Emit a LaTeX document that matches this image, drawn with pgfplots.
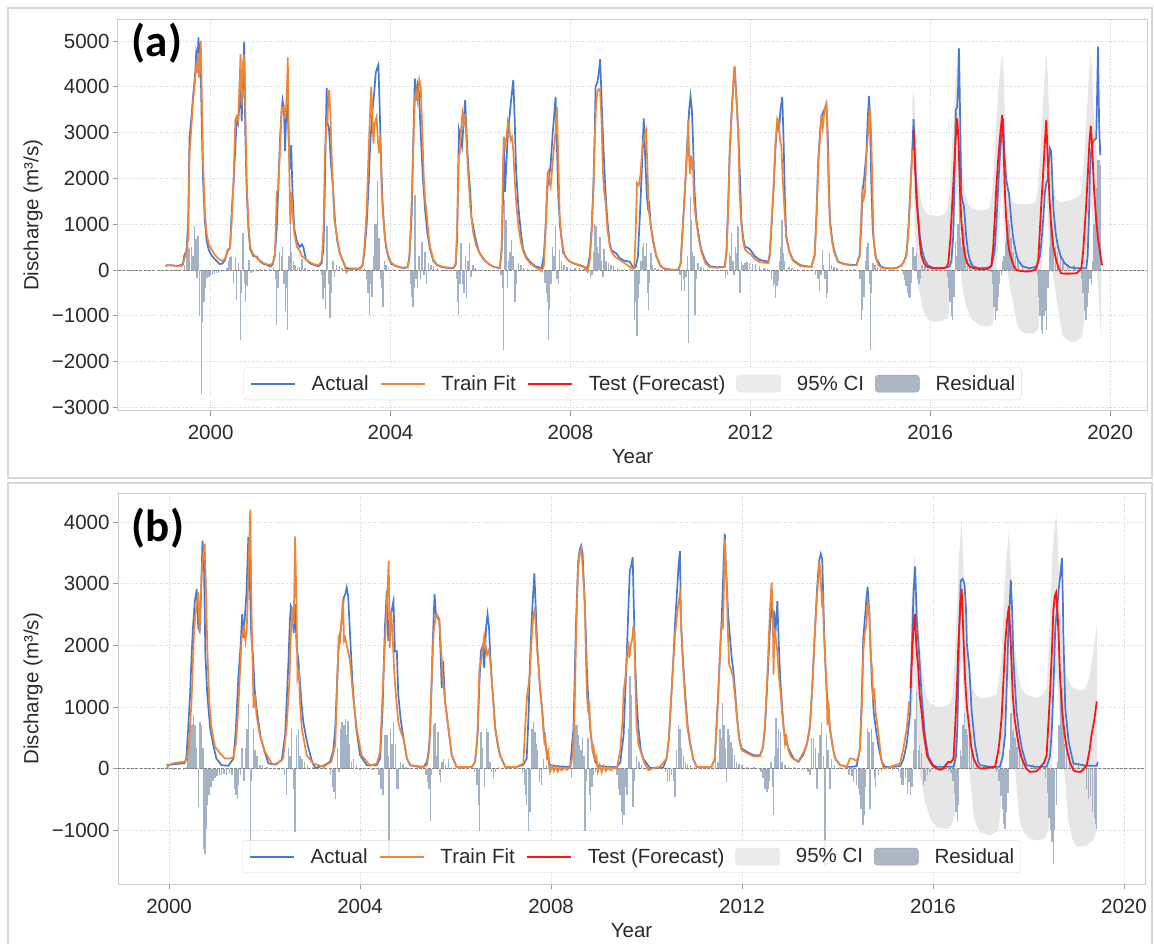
\documentclass[border=0pt]{standalone}
\usepackage{fontspec}
\setmainfont{Liberation Sans}
\newfontfamily\labfont{Carlito}
\usepackage{pgfplots}
\pgfplotsset{compat=1.18}

\definecolor{cA}{HTML}{4878CF}
\definecolor{cF}{HTML}{EF8538}
\definecolor{cT}{HTML}{FF1414}
\definecolor{ci}{HTML}{E6E6E6}
\definecolor{resid}{HTML}{A4B2C6}
\definecolor{gridc}{HTML}{D2D2D2}
\definecolor{framec}{HTML}{CCCCCC}
\definecolor{tickc}{HTML}{2B2B2B}
\definecolor{panelc}{HTML}{D8D8D8}

\newcommand{\tf}{\fontsize{20.5}{24}\selectfont}

\pgfplotsset{
  legA/.style={legend image code/.code={\draw[cA, line width=1.9pt] (0pt,0pt) -- (44pt,0pt);}},
  legF/.style={legend image code/.code={\draw[cF, line width=1.9pt] (0pt,0pt) -- (44pt,0pt);}},
  legT/.style={legend image code/.code={\draw[cT, line width=1.9pt] (0pt,0pt) -- (44pt,0pt);}},
  legC/.style={legend image code/.code={\fill[ci] (0pt,-8.5pt) rectangle (44pt,8.5pt);}},
  legR/.style={legend image code/.code={\fill[resid!90!black!95] (0pt,-8.5pt) rectangle (44pt,8.5pt);}},
  myax/.style={
    scale only axis,
    axis line style={framec, line width=1pt},
    grid=major,
    major grid style={gridc, line width=0.8pt, dash pattern=on 1pt off 1.6pt},
    tick align=outside,
    major tick length=5pt,
    tick style={black!40, line width=0.9pt},
    xtick pos=left, ytick pos=left,
    xtick={2000,2004,2008,2012,2016,2020},
    xticklabels={2000,2004,2008,2012,2016,2020},
    tick label style={font=\tf, text=tickc},
    xticklabel style={yshift=-6pt},
    label style={font=\tf, text=tickc},
    xlabel={Year},
    ylabel={Discharge (m³/s)},
    legend columns=5,
    legend cell align=left,
    legend style={anchor=south, draw=black!14, rounded corners=3pt,
      fill=white, fill opacity=0.8, text opacity=1, font=\tf, text=tickc,
      inner xsep=6pt, inner ysep=6pt, column sep=16pt,
      /tikz/every even column/.append style={column sep=11pt},
      nodes={inner xsep=0pt, inner ysep=2pt}},
  },
}

\begin{document}
\begin{tikzpicture}[x=1pt,y=1pt]
\fill[white] (0,0) rectangle (1154,944);
\path[use as bounding box] (0,0) rectangle (1154,944);
\draw[panelc, line width=1.2pt] (8,466) rectangle (1152,936);
\draw[panelc, line width=1.2pt] (8,-10) rectangle (1152,461);

% ---------------- panel (a) ----------------
\begin{axis}[myax,
  at={(118pt,533pt)}, anchor=south west,
  width=1029pt, height=391.5pt,
  xmin=1997.94, xmax=2020.82, ymin=-3079, ymax=5469,
  ytick={-3000,-2000,-1000,0,1000,2000,3000,4000,5000},
  yticklabels={−3000,−2000,−1000,0,1000,2000,3000,4000,5000},
  xlabel style={at={(axis description cs:0.5,-0.1175)}, anchor=center},
  ylabel style={at={(axis description cs:-0.0826,0.5)}, anchor=center, rotate=0},
  legend style={at={(0.5,0.028)}},
]
% 95% CI
\addplot[fill=ci, draw=none, forget plot] coordinates {
(2015.60,3700) (2015.63,3893) (2015.66,3400) (2015.70,2600) (2015.74,2000) (2015.78,1600) (2015.84,1350) (2015.92,1240) (2016.00,1200) (2016.15,1180) (2016.30,1200) (2016.38,1300) (2016.43,1700) (2016.48,2600) (2016.53,3500) (2016.58,4400) (2016.61,4800) (2016.64,4300) (2016.68,3000) (2016.72,2200) (2016.77,1700) (2016.84,1450) (2016.92,1350) (2017.05,1310) (2017.20,1300) (2017.32,1350) (2017.38,1700) (2017.43,2500) (2017.48,3400) (2017.54,4200) (2017.60,4750) (2017.63,4300) (2017.67,3000) (2017.71,2200) (2017.76,1700) (2017.82,1500) (2017.90,1450) (2018.05,1440) (2018.20,1440) (2018.34,1480) (2018.40,1800) (2018.45,2600) (2018.50,3500) (2018.55,4300) (2018.58,4730) (2018.61,4300) (2018.65,3100) (2018.69,2300) (2018.74,1800) (2018.80,1550) (2018.88,1480) (2019.00,1500) (2019.15,1530) (2019.30,1600) (2019.36,1700) (2019.42,2400) (2019.47,3200) (2019.52,4100) (2019.57,4766) (2019.60,4300) (2019.64,3300) (2019.69,2600) (2019.74,2100) (2019.80,1700)
(2019.80,-1550) (2019.77,-1000) (2019.74,-500) (2019.71,-100) (2019.67,300) (2019.62,900) (2019.57,1500) (2019.53,800) (2019.49,100) (2019.45,-500) (2019.42,-1100) (2019.38,-1450) (2019.25,-1560) (2019.10,-1565) (2018.95,-1450) (2018.88,-1092) (2018.82,-700) (2018.77,-360) (2018.73,-100) (2018.69,200) (2018.64,600) (2018.61,1200) (2018.58,1800) (2018.54,1000) (2018.50,300) (2018.46,-300) (2018.43,-800) (2018.40,-1300) (2018.30,-1390) (2018.10,-1383) (2017.98,-1300) (2017.91,-1092) (2017.84,-700) (2017.77,-360) (2017.73,-100) (2017.69,200) (2017.65,700) (2017.62,1300) (2017.60,1900) (2017.56,1400) (2017.52,700) (2017.48,100) (2017.45,-400) (2017.42,-900) (2017.39,-1200) (2017.25,-1240) (2017.10,-1200) (2016.95,-1092) (2016.88,-1000) (2016.80,-800) (2016.74,-500) (2016.70,-218) (2016.67,200) (2016.64,900) (2016.60,1800) (2016.56,1300) (2016.52,500) (2016.48,-100) (2016.44,-300) (2016.42,-900) (2016.39,-1050) (2016.25,-1110) (2016.10,-1128) (2015.95,-1092) (2015.84,-873) (2015.78,-550) (2015.73,-364) (2015.69,100) (2015.65,1200) (2015.62,2300) (2015.60,2500)
};
% residuals
\addplot[ycomb, resid, line width=1.4pt, forget plot] coordinates {
(1999.05,5) (1999.15,5) (1999.25,-10) (1999.35,30) (1999.42,100) (1999.46,360) (1999.50,500) (1999.53,450) (1999.57,500) (1999.61,300) (1999.64,970) (1999.67,680) (1999.70,-180) (1999.72,750) (1999.75,-1000) (1999.79,-2700) (1999.82,-1130) (1999.85,-690) (1999.87,-400) (1999.89,-330) (1999.92,-180) (1999.96,-150)
(2000.00,-120) (2000.04,-100) (2000.08,-80) (2000.13,-70) (2000.18,-60) (2000.24,-50) (2000.30,-30) (2000.36,50) (2000.40,200) (2000.43,290) (2000.47,300) (2000.51,-290) (2000.55,290) (2000.58,-650) (2000.62,150) (2000.66,-1530) (2000.69,-500) (2000.72,800) (2000.75,-300) (2000.78,-700) (2000.81,-360) (2000.85,220) (2000.90,-60) (2000.95,-40)
(2001.02,30) (2001.10,20) (2001.20,20) (2001.30,30) (2001.40,60) (2001.44,-200) (2001.47,-1200) (2001.50,-400) (2001.53,400) (2001.57,300) (2001.60,500) (2001.63,-300) (2001.66,-900) (2001.69,-400) (2001.71,-1300) (2001.74,300) (2001.77,1000) (2001.80,400) (2001.84,200) (2001.88,100) (2001.93,50) (2001.98,60) (2002.03,250)
(2002.10,50) (2002.20,-20) (2002.30,-30) (2002.40,-30) (2002.46,-100) (2002.50,-630) (2002.53,-400) (2002.56,-850) (2002.59,960) (2002.62,-300) (2002.65,-1050) (2002.68,-500) (2002.72,200) (2002.76,-150) (2002.80,100) (2002.86,80) (2002.92,50) (2003.00,-30) (2003.10,-20) (2003.25,-10)
(2003.38,20) (2003.42,50) (2003.46,-200) (2003.50,-500) (2003.53,-980) (2003.56,-300) (2003.59,-600) (2003.62,300) (2003.65,1000) (2003.68,1000) (2003.71,1950) (2003.74,700) (2003.77,-200) (2003.80,-400) (2003.83,-800) (2003.86,200) (2003.90,100) (2003.95,50) (2004.05,20) (2004.20,10)
(2004.40,-20) (2004.44,-300) (2004.47,-600) (2004.50,-800) (2004.52,-400) (2004.545,1640) (2004.57,-200) (2004.60,-400) (2004.63,300) (2004.66,-200) (2004.70,600) (2004.74,-100) (2004.77,400) (2004.80,-300) (2004.85,150) (2004.90,100) (2004.96,80) (2005.05,50) (2005.20,10)
(2005.42,-20) (2005.46,-200) (2005.49,-700) (2005.51,-980) (2005.54,-300) (2005.57,580) (2005.60,-300) (2005.63,-500) (2005.66,300) (2005.69,-620) (2005.72,200) (2005.75,580) (2005.79,-150) (2005.83,100) (2005.88,50) (2005.95,30) (2006.05,20) (2006.20,10)
(2006.40,-10) (2006.46,-100) (2006.49,-400) (2006.51,-1750) (2006.54,1530) (2006.57,1090) (2006.60,-400) (2006.63,200) (2006.66,400) (2006.69,650) (2006.72,300) (2006.75,-400) (2006.77,-690) (2006.80,-300) (2006.84,150) (2006.90,100) (2006.96,50) (2007.05,30) (2007.20,10)
(2007.38,-10) (2007.43,-290) (2007.47,-500) (2007.49,-690) (2007.51,-1530) (2007.54,-870) (2007.57,-300) (2007.60,500) (2007.63,300) (2007.665,970) (2007.70,-200) (2007.73,-300) (2007.76,440) (2007.80,200) (2007.86,100) (2007.92,60) (2008.00,40) (2008.10,50) (2008.20,40) (2008.30,20)
(2008.40,-50) (2008.44,-180) (2008.48,-100) (2008.52,400) (2008.54,1000) (2008.57,970) (2008.60,500) (2008.63,360) (2008.66,730) (2008.69,200) (2008.72,-150) (2008.75,450) (2008.79,200) (2008.84,150) (2008.90,100) (2008.96,80) (2009.05,40) (2009.20,30) (2009.32,20)
(2009.38,-30) (2009.43,-1090) (2009.46,-700) (2009.48,-1450) (2009.51,-620) (2009.54,-300) (2009.57,200) (2009.60,510) (2009.63,580) (2009.66,300) (2009.69,580) (2009.71,-500) (2009.73,-870) (2009.76,-290) (2009.79,360) (2009.83,100) (2009.88,50) (2009.95,30) (2010.10,10) (2010.25,10)
(2010.40,10) (2010.44,-100) (2010.47,-470) (2010.51,-200) (2010.54,-470) (2010.57,-150) (2010.60,300) (2010.63,-1600) (2010.665,1600) (2010.69,1090) (2010.72,400) (2010.75,300) (2010.77,-980) (2010.80,-200) (2010.84,150) (2010.90,70) (2010.96,50) (2011.05,20) (2011.20,10)
(2011.40,10) (2011.45,-180) (2011.49,-100) (2011.53,360) (2011.56,300) (2011.58,800) (2011.61,200) (2011.64,-100) (2011.67,500) (2011.70,360) (2011.73,950) (2011.77,-510) (2011.80,180) (2011.84,100) (2011.88,150) (2011.93,170) (2011.98,150) (2012.05,140) (2012.12,120) (2012.20,80) (2012.30,50) (2012.38,30)
(2012.43,-50) (2012.47,-200) (2012.51,-360) (2012.54,-300) (2012.56,-620) (2012.59,-360) (2012.62,-250) (2012.65,200) (2012.68,500) (2012.70,1090) (2012.73,360) (2012.76,200) (2012.80,-50) (2012.86,60) (2012.93,40) (2013.05,30) (2013.20,20)
(2013.40,-20) (2013.45,-100) (2013.50,-200) (2013.54,-470) (2013.57,-100) (2013.60,440) (2013.63,100) (2013.66,-200) (2013.69,-620) (2013.72,-510) (2013.76,360) (2013.80,100) (2013.86,60) (2013.93,40) (2014.05,30) (2014.20,20) (2014.32,20)
(2014.40,-20) (2014.44,-200) (2014.47,-1090) (2014.50,-870) (2014.53,-600) (2014.56,200) (2014.59,510) (2014.62,580) (2014.645,-300) (2014.67,-1750) (2014.70,-500) (2014.73,150) (2014.77,100) (2014.83,60) (2014.90,40) (2015.00,20) (2015.15,-10) (2015.30,-10)
(2015.40,-100) (2015.43,-220) (2015.46,-360) (2015.49,-510) (2015.52,-600) (2015.55,-620) (2015.58,-290) (2015.62,500)
(2015.66,300) (2015.69,400) (2015.72,-200) (2015.75,-300) (2015.78,-200) (2015.82,100) (2015.88,80) (2015.95,30) (2016.05,10) (2016.20,5) (2016.32,-30) (2016.38,-150) (2016.41,-400) (2016.44,-700) (2016.47,-1000) (2016.50,-1092) (2016.53,-600) (2016.56,600) (2016.59,300) (2016.62,1000) (2016.645,1900) (2016.67,700) (2016.70,500) (2016.73,900) (2016.76,800) (2016.79,500) (2016.83,250) (2016.88,150) (2016.95,60) (2017.10,20) (2017.25,30) (2017.35,-50) (2017.39,-300) (2017.42,-800) (2017.45,-1100) (2017.48,-900) (2017.51,-600) (2017.54,-300) (2017.58,-100) (2017.61,200) (2017.64,300) (2017.67,600) (2017.70,800) (2017.73,1100) (2017.76,1000) (2017.80,700) (2017.84,400) (2017.90,300) (2017.95,200) (2018.05,100) (2018.20,70) (2018.32,40) (2018.38,-100) (2018.41,-600) (2018.44,-1000) (2018.47,-1300) (2018.50,-1400) (2018.53,-1000) (2018.56,-900) (2018.59,-1300) (2018.62,-400) (2018.65,500) (2018.68,1200) (2018.71,1000) (2018.74,700) (2018.78,500) (2018.83,400) (2018.89,300) (2018.95,200) (2019.05,130) (2019.20,100) (2019.32,60) (2019.37,-200) (2019.40,-500) (2019.43,-900) (2019.46,-1100) (2019.49,-800) (2019.52,-500) (2019.55,-200) (2019.58,-300) (2019.61,200) (2019.64,1000) (2019.67,1600) (2019.70,1800) (2019.73,2400) (2019.76,2400) (2019.78,2300)
};
\addplot[forget plot, gray, line width=0.8pt, dash pattern=on 3pt off 1.3pt] coordinates {(1997.94,0) (2020.82,0)};
% actual
\addplot[cA, line width=1.7pt, forget plot] coordinates {
(1999.00,100) (1999.10,105) (1999.20,95) (1999.30,90) (1999.38,130) (1999.42,340) (1999.46,400) (1999.50,1000) (1999.53,2900) (1999.57,3300) (1999.61,3800) (1999.65,4200) (1999.68,4750) (1999.71,4600) (1999.73,5080) (1999.75,4400) (1999.77,4950) (1999.80,3300) (1999.83,2000) (1999.87,1100) (1999.91,650) (1999.96,430)
(2000.02,320) (2000.08,250) (2000.14,190) (2000.20,130) (2000.26,140) (2000.32,220) (2000.38,420) (2000.43,480) (2000.47,1300) (2000.51,1900) (2000.55,2700) (2000.58,3300) (2000.61,3200) (2000.64,3600) (2000.67,4000) (2000.69,3250) (2000.72,4200) (2000.745,4980) (2000.77,3000) (2000.80,1800) (2000.84,900) (2000.88,450) (2000.95,300)
(2001.03,290) (2001.10,180) (2001.18,130) (2001.25,110) (2001.33,75) (2001.38,120) (2001.43,360) (2001.47,900) (2001.50,1700) (2001.545,2900) (2001.58,3500) (2001.60,3700) (2001.63,3500) (2001.655,2600) (2001.68,3400) (2001.70,3930) (2001.73,3000) (2001.76,2200) (2001.79,2730) (2001.82,1700) (2001.86,900) (2001.92,620) (2001.98,500) (2002.03,560) (2002.06,500)
(2002.12,230) (2002.20,150) (2002.29,110) (2002.40,80) (2002.47,150) (2002.51,500) (2002.54,1800) (2002.56,3000) (2002.58,3970) (2002.60,3200) (2002.63,3100) (2002.67,2400) (2002.72,1800) (2002.77,1000) (2002.82,600) (2002.88,350) (2002.94,200) (2003.00,60) (2003.06,30) (2003.15,30) (2003.25,30) (2003.33,40)
(2003.38,120) (2003.42,400) (2003.47,1000) (2003.51,1800) (2003.55,2800) (2003.60,3500) (2003.64,3900) (2003.67,4300) (2003.70,4400) (2003.73,4480) (2003.76,3500) (2003.79,2400) (2003.82,1500) (2003.86,900) (2003.90,500) (2003.96,250) (2004.02,130) (2004.10,100) (2004.20,60) (2004.30,40) (2004.38,60)
(2004.42,300) (2004.47,1200) (2004.51,3000) (2004.54,4180) (2004.57,3700) (2004.60,4050) (2004.63,3900) (2004.67,3000) (2004.72,2000) (2004.77,1300) (2004.82,800) (2004.88,450) (2004.95,200) (2005.03,110) (2005.15,60) (2005.30,40) (2005.40,40)
(2005.45,120) (2005.48,700) (2005.52,3050) (2005.55,2900) (2005.59,2700) (2005.63,3300) (2005.66,3710) (2005.69,3000) (2005.71,2600) (2005.74,2100) (2005.77,1750) (2005.80,1150) (2005.88,730) (2005.95,450) (2006.00,330) (2006.10,200) (2006.21,110) (2006.32,60) (2006.43,40)
(2006.47,400) (2006.50,1500) (2006.52,2900) (2006.545,1700) (2006.58,2400) (2006.61,3000) (2006.64,3280) (2006.68,3700) (2006.73,4150) (2006.76,3300) (2006.79,2200) (2006.84,1400) (2006.90,800) (2006.95,440) (2007.02,280) (2007.10,180) (2007.22,80) (2007.36,40)
(2007.41,330) (2007.45,1000) (2007.49,1800) (2007.52,2000) (2007.56,2300) (2007.60,2900) (2007.64,3400) (2007.67,3780) (2007.70,2700) (2007.73,1600) (2007.77,950) (2007.84,370) (2007.92,250) (2007.99,180) (2008.10,130) (2008.20,100) (2008.29,70) (2008.38,40)
(2008.43,300) (2008.47,900) (2008.51,1820) (2008.54,3000) (2008.56,4000) (2008.60,4100) (2008.63,4300) (2008.66,4600) (2008.69,3800) (2008.72,3000) (2008.75,2300) (2008.78,1700) (2008.82,1100) (2008.87,600) (2008.91,440) (2009.02,360) (2009.10,255) (2009.20,200) (2009.32,180) (2009.40,40)
(2009.45,60) (2009.50,300) (2009.54,1100) (2009.58,2000) (2009.61,2800) (2009.63,3310) (2009.66,2500) (2009.70,1600) (2009.73,1300) (2009.75,1500) (2009.78,1000) (2009.84,600) (2009.91,300) (2010.00,100) (2010.06,40) (2010.20,10) (2010.40,0)
(2010.45,150) (2010.51,1165) (2010.56,2000) (2010.60,2800) (2010.64,3500) (2010.67,3790) (2010.70,3500) (2010.73,2700) (2010.76,1700) (2010.80,1100) (2010.86,700) (2010.91,440) (2011.00,200) (2011.10,80) (2011.25,60) (2011.43,70)
(2011.47,400) (2011.51,1500) (2011.54,2550) (2011.58,3400) (2011.62,4000) (2011.65,4430) (2011.69,3800) (2011.73,3050) (2011.77,2000) (2011.80,1100) (2011.84,700) (2011.88,510) (2011.95,480) (2012.00,440) (2012.10,300) (2012.21,220) (2012.30,200) (2012.40,180)
(2012.43,330) (2012.48,1100) (2012.52,1820) (2012.56,2700) (2012.60,3200) (2012.64,3060) (2012.67,3500) (2012.71,3780) (2012.74,2800) (2012.77,1500) (2012.80,730) (2012.87,400) (2012.95,220) (2013.10,110) (2013.25,80) (2013.36,73)
(2013.43,330) (2013.47,1200) (2013.51,2400) (2013.55,3000) (2013.58,3350) (2013.62,3450) (2013.66,3530) (2013.69,3620) (2013.72,3000) (2013.75,1700) (2013.77,1100) (2013.82,650) (2013.86,440) (2013.95,180) (2014.10,130) (2014.25,110) (2014.36,110)
(2014.43,330) (2014.47,1000) (2014.49,1670) (2014.53,2000) (2014.58,2550) (2014.61,3300) (2014.64,3800) (2014.66,3400) (2014.69,1900) (2014.72,900) (2014.76,500) (2014.80,250) (2014.90,80) (2015.00,40) (2015.15,30) (2015.25,40) (2015.35,90) (2015.40,150)
(2015.47,330) (2015.52,1000) (2015.56,1800) (2015.60,2620) (2015.63,3290)
(2015.66,2500) (2015.69,1820) (2015.73,1200) (2015.77,728) (2015.82,420) (2015.88,218) (2015.95,100) (2016.05,50) (2016.14,36) (2016.30,45) (2016.43,73) (2016.47,200) (2016.51,728) (2016.54,2000) (2016.57,3493) (2016.60,3565) (2016.62,4000) (2016.64,4839) (2016.67,3000) (2016.69,1674) (2016.72,1500) (2016.75,1383) (2016.80,728) (2016.84,400) (2016.88,218) (2016.95,80) (2017.10,36) (2017.25,50) (2017.36,73) (2017.43,400) (2017.47,1000) (2017.51,1820) (2017.55,2500) (2017.58,2900) (2017.62,3311) (2017.65,2500) (2017.69,1965) (2017.72,1800) (2017.75,1674) (2017.80,1100) (2017.84,728) (2017.90,400) (2017.95,218) (2018.05,80) (2018.21,36) (2018.36,73) (2018.44,300) (2018.48,700) (2018.51,1092) (2018.55,1700) (2018.58,1892) (2018.61,1965) (2018.64,2400) (2018.66,2656) (2018.69,2583) (2018.72,1800) (2018.74,1310) (2018.79,800) (2018.84,510) (2018.90,300) (2018.99,146) (2019.10,60) (2019.25,36) (2019.40,36) (2019.47,36) (2019.50,300) (2019.53,1200) (2019.55,2110) (2019.58,2600) (2019.62,2800) (2019.66,2850) (2019.69,2874) (2019.71,3800) (2019.73,4875) (2019.755,3200) (2019.78,2500)
};
% train fit
\addplot[cF, line width=1.7pt, forget plot] coordinates {
(1999.00,70) (1999.03,100) (1999.10,100) (1999.20,90) (1999.30,80) (1999.38,100) (1999.42,250) (1999.46,380) (1999.50,700) (1999.53,2500) (1999.57,3100) (1999.61,3700) (1999.65,4100) (1999.68,4500) (1999.70,4300) (1999.72,4750) (1999.74,4200) (1999.76,4600) (1999.78,5000) (1999.80,4000) (1999.83,2400) (1999.87,1300) (1999.91,800) (1999.96,550)
(2000.02,450) (2000.08,350) (2000.14,280) (2000.20,220) (2000.26,200) (2000.32,250) (2000.38,450) (2000.43,480) (2000.47,1100) (2000.51,2000) (2000.55,3300) (2000.58,3350) (2000.61,3250) (2000.64,4000) (2000.665,4720) (2000.69,3600) (2000.72,4500) (2000.75,4700) (2000.77,3600) (2000.80,2000) (2000.84,1000) (2000.88,500) (2000.94,350)
(2001.03,260) (2001.10,200) (2001.18,150) (2001.25,120) (2001.33,110) (2001.38,150) (2001.43,300) (2001.47,1700) (2001.50,1750) (2001.545,2700) (2001.58,3550) (2001.60,3500) (2001.63,3550) (2001.66,3300) (2001.69,3700) (2001.715,4640) (2001.74,2700) (2001.77,1000) (2001.79,1700) (2001.82,1300) (2001.86,800) (2001.92,500) (2001.98,420) (2002.03,300) (2002.06,280)
(2002.12,230) (2002.20,170) (2002.29,130) (2002.40,100) (2002.47,200) (2002.51,900) (2002.54,2500) (2002.57,3100) (2002.60,3400) (2002.635,3930) (2002.66,3500) (2002.69,2500) (2002.72,1800) (2002.75,1100) (2002.80,800) (2002.86,400) (2002.92,250) (2002.98,100) (2003.02,-50) (2003.06,10) (2003.15,20) (2003.25,20) (2003.33,30)
(2003.38,100) (2003.42,500) (2003.47,1300) (2003.51,2500) (2003.54,3300) (2003.57,4000) (2003.60,3300) (2003.62,2760) (2003.65,3200) (2003.69,3340) (2003.72,2800) (2003.745,2550) (2003.77,2950) (2003.80,1800) (2003.84,1090) (2003.88,650) (2003.94,350) (2004.00,180) (2004.10,90) (2004.20,60) (2004.30,50) (2004.38,70)
(2004.42,250) (2004.47,1500) (2004.51,2800) (2004.54,3700) (2004.57,3900) (2004.60,3700) (2004.64,4150) (2004.67,4000) (2004.70,3200) (2004.74,2000) (2004.77,1500) (2004.80,1270) (2004.84,800) (2004.88,500) (2004.95,230) (2005.03,120) (2005.15,70) (2005.30,50) (2005.40,50)
(2005.45,150) (2005.48,900) (2005.52,2500) (2005.54,2550) (2005.57,3100) (2005.60,3420) (2005.63,3200) (2005.66,3400) (2005.69,2800) (2005.72,2200) (2005.75,1750) (2005.78,1300) (2005.84,800) (2005.90,550) (2005.96,400) (2006.02,320) (2006.10,200) (2006.21,110) (2006.32,60) (2006.43,50)
(2006.47,500) (2006.50,2200) (2006.52,2911) (2006.55,2700) (2006.58,2900) (2006.61,3240) (2006.64,3100) (2006.67,2838) (2006.70,2900) (2006.73,2600) (2006.76,2000) (2006.80,1400) (2006.85,900) (2006.90,600) (2006.95,400) (2007.02,250) (2007.10,150) (2007.22,60) (2007.36,-30)
(2007.41,100) (2007.45,900) (2007.49,2100) (2007.51,2150) (2007.54,1900) (2007.56,1820) (2007.60,2300) (2007.64,2730) (2007.67,3000) (2007.70,3550) (2007.73,2400) (2007.76,1200) (2007.80,700) (2007.86,350) (2007.92,250) (2007.99,180) (2008.10,140) (2008.20,110) (2008.29,80) (2008.38,-40)
(2008.43,200) (2008.47,800) (2008.51,1700) (2008.54,2800) (2008.57,3600) (2008.60,3900) (2008.63,3950) (2008.66,3900) (2008.69,3300) (2008.72,2200) (2008.75,1700) (2008.78,1500) (2008.82,900) (2008.87,550) (2008.91,400) (2009.00,280) (2009.10,220) (2009.20,150) (2009.30,80) (2009.40,20)
(2009.42,100) (2009.45,800) (2009.48,1900) (2009.52,1850) (2009.56,2100) (2009.60,2700) (2009.64,2900) (2009.68,3050) (2009.71,2300) (2009.74,1300) (2009.77,1100) (2009.80,900) (2009.85,600) (2009.91,300) (2010.00,80) (2010.10,20) (2010.25,0) (2010.40,10)
(2010.45,120) (2010.51,1100) (2010.56,2000) (2010.60,2700) (2010.62,3280) (2010.64,2400) (2010.66,2100) (2010.68,2500) (2010.70,2300) (2010.72,2380) (2010.75,1500) (2010.79,1100) (2010.85,700) (2010.91,400) (2011.00,150) (2011.10,60) (2011.25,50) (2011.43,60)
(2011.47,350) (2011.51,1400) (2011.54,2500) (2011.58,3300) (2011.62,4100) (2011.65,4450) (2011.69,3700) (2011.73,3050) (2011.76,1700) (2011.80,1000) (2011.84,620) (2011.88,450) (2011.95,380) (2012.00,350) (2012.10,240) (2012.21,170) (2012.30,160) (2012.40,150)
(2012.43,300) (2012.48,1200) (2012.52,1900) (2012.56,2800) (2012.60,3310) (2012.63,3250) (2012.66,2840) (2012.69,2700) (2012.72,2000) (2012.76,1300) (2012.80,700) (2012.87,380) (2012.95,200) (2013.10,90) (2013.25,70) (2013.36,70)
(2013.43,300) (2013.47,1100) (2013.51,2300) (2013.55,2900) (2013.58,3380) (2013.61,3100) (2013.64,3400) (2013.67,3580) (2013.69,3640) (2013.71,3060) (2013.74,1800) (2013.77,1000) (2013.82,600) (2013.86,400) (2013.95,170) (2014.10,120) (2014.25,100) (2014.36,100)
(2014.43,300) (2014.47,1300) (2014.49,1700) (2014.52,1550) (2014.55,1700) (2014.58,2500) (2014.62,3000) (2014.66,3570) (2014.69,2900) (2014.72,1500) (2014.74,700) (2014.78,300) (2014.85,100) (2014.95,40) (2015.10,40) (2015.25,40) (2015.35,100) (2015.40,150)
(2015.47,300) (2015.52,900) (2015.56,1700) (2015.60,2620)
};
% test forecast
\addplot[cT, line width=1.8pt, forget plot] coordinates {
(2015.63,3057) (2015.66,2300) (2015.69,1600) (2015.73,1092) (2015.77,600) (2015.80,327) (2015.86,150) (2015.92,73) (2016.05,40) (2016.15,36) (2016.29,36) (2016.36,60) (2016.40,146) (2016.45,700) (2016.48,1300) (2016.51,1820) (2016.55,2600) (2016.58,3100) (2016.60,3311) (2016.63,2800) (2016.66,1800) (2016.69,1092) (2016.73,600) (2016.77,327) (2016.82,150) (2016.88,73) (2017.00,30) (2017.15,15) (2017.25,15) (2017.32,50) (2017.36,109) (2017.40,500) (2017.44,1200) (2017.47,1820) (2017.51,2400) (2017.56,3000) (2017.60,3384) (2017.63,2700) (2017.66,1700) (2017.69,1092) (2017.73,600) (2017.76,400) (2017.80,255) (2017.86,80) (2017.91,0) (2018.00,-20) (2018.14,-36) (2018.25,-20) (2018.32,0) (2018.36,36) (2018.40,200) (2018.44,900) (2018.47,1455) (2018.51,2100) (2018.55,2800) (2018.58,3275) (2018.61,2500) (2018.65,1600) (2018.69,946) (2018.73,550) (2018.77,350) (2018.80,218) (2018.85,50) (2018.91,-73) (2019.00,-80) (2019.10,-80) (2019.25,-73) (2019.30,-30) (2019.36,36) (2019.40,400) (2019.44,1000) (2019.47,1455) (2019.51,2200) (2019.54,2800) (2019.57,3150) (2019.60,2700) (2019.64,1800) (2019.69,1092) (2019.73,700) (2019.78,350) (2019.82,100)
};
\addlegendimage{legA}\addlegendentry{Actual}
\addlegendimage{legF}\addlegendentry{Train Fit}
\addlegendimage{legT}\addlegendentry{Test (Forecast)}
\addlegendimage{legC}\addlegendentry{95\% CI}
\addlegendimage{legR}\addlegendentry{Residual}
\end{axis}

% ---------------- panel (b) ----------------
\begin{axis}[myax,
  at={(118pt,59.7pt)}, anchor=south west,
  width=1027pt, height=391pt,
  xmin=1998.93, xmax=2020.44, ymin=-1880, ymax=4470,
  ytick={-1000,0,1000,2000,3000,4000},
  yticklabels={−1000,0,1000,2000,3000,4000},
  xlabel style={at={(axis description cs:0.5,-0.1194)}, anchor=center},
  ylabel style={at={(axis description cs:-0.0828,0.5)}, anchor=center, rotate=0},
  legend style={at={(0.5,0.029)}},
]
\addplot[fill=ci, draw=none, forget plot] coordinates {
(2015.53,2300) (2015.57,3000) (2015.60,3350) (2015.62,3460) (2015.65,2900) (2015.69,2500) (2015.73,2015) (2015.78,1600) (2015.83,1300) (2015.87,1144) (2015.95,1050) (2016.08,1008) (2016.20,1000) (2016.30,1030) (2016.36,1050) (2016.41,1200) (2016.45,1743) (2016.50,2600) (2016.55,3500) (2016.60,4050) (2016.63,3400) (2016.67,2500) (2016.71,2015) (2016.76,1600) (2016.82,1307) (2016.90,1200) (2016.99,1144) (2017.15,1150) (2017.33,1200) (2017.38,1400) (2017.44,1900) (2017.50,3000) (2017.55,3500) (2017.59,3850) (2017.63,3200) (2017.67,2400) (2017.71,2000) (2017.77,1600) (2017.85,1300) (2017.95,1200) (2018.17,1144) (2018.30,1200) (2018.38,1300) (2018.44,2200) (2018.50,3500) (2018.55,3900) (2018.58,4150) (2018.61,3700) (2018.64,3100) (2018.68,2400) (2018.73,1900) (2018.80,1500) (2018.90,1330) (2019.08,1260) (2019.20,1300) (2019.28,1500) (2019.34,1800) (2019.40,2150) (2019.43,2340)
(2019.43,-980) (2019.36,-1150) (2019.22,-1253) (2019.01,-1280) (2018.92,-1150) (2018.84,-870) (2018.80,-500) (2018.77,-218) (2018.73,100) (2018.69,500) (2018.65,900) (2018.61,1300) (2018.58,1600) (2018.55,1400) (2018.52,900) (2018.49,-109) (2018.46,-600) (2018.42,-980) (2018.35,-1120) (2018.24,-1171) (2018.03,-1144) (2017.92,-1050) (2017.82,-870) (2017.78,-550) (2017.75,-270) (2017.71,50) (2017.67,400) (2017.63,1000) (2017.59,1500) (2017.55,1200) (2017.51,800) (2017.47,200) (2017.44,-163) (2017.41,-700) (2017.37,-1008) (2017.19,-1090) (2016.99,-1035) (2016.90,-900) (2016.85,-760) (2016.81,-400) (2016.78,-163) (2016.74,100) (2016.70,500) (2016.66,900) (2016.63,1400) (2016.60,1850) (2016.56,1400) (2016.53,900) (2016.51,0) (2016.48,-400) (2016.45,-760) (2016.40,-900) (2016.30,-980) (2016.08,-953) (2015.94,-817) (2015.88,-650) (2015.83,-545) (2015.78,-300) (2015.73,-109) (2015.69,400) (2015.65,1000) (2015.62,1550) (2015.57,1100) (2015.53,400)
};
\addplot[ycomb, resid, line width=1.4pt, forget plot] coordinates {
(2000.00,10) (2000.10,-10) (2000.20,-20) (2000.30,-20) (2000.37,30) (2000.40,300) (2000.43,700) (2000.46,700) (2000.49,720) (2000.51,870) (2000.54,700) (2000.57,330) (2000.61,-630) (2000.65,760) (2000.68,700) (2000.71,330) (2000.73,-1300) (2000.75,-1390) (2000.78,-980) (2000.81,-600) (2000.84,-435) (2000.88,-300) (2000.92,-200) (2000.96,-150) (2001.00,-120) (2001.05,-100) (2001.10,-110) (2001.15,-90) (2001.20,-100) (2001.26,-80) (2001.32,-100)
(2001.37,-330) (2001.40,-435) (2001.43,-500) (2001.46,-270) (2001.50,-100) (2001.53,330) (2001.57,-200) (2001.60,330) (2001.63,650) (2001.66,1050) (2001.70,-1400) (2001.73,-200) (2001.77,650) (2001.80,300) (2001.84,200) (2001.90,50) (2001.96,60) (2002.05,20) (2002.15,0) (2002.30,-20)
(2002.42,-100) (2002.46,-435) (2002.50,330) (2002.53,200) (2002.57,650) (2002.60,-330) (2002.64,-1035) (2002.67,545) (2002.71,650) (2002.74,200) (2002.78,160) (2002.84,100) (2002.90,50) (2003.00,20) (2003.10,10) (2003.25,20)
(2003.38,-100) (2003.42,-300) (2003.45,-380) (2003.49,-500) (2003.53,330) (2003.56,-50) (2003.59,650) (2003.62,760) (2003.66,700) (2003.69,800) (2003.72,545) (2003.75,780) (2003.78,400) (2003.82,100) (2003.86,150) (2003.92,60) (2004.00,-20) (2004.10,10) (2004.25,-20)
(2004.40,-100) (2004.44,-330) (2004.48,-435) (2004.52,545) (2004.56,545) (2004.59,200) (2004.61,-1420) (2004.64,650) (2004.67,400) (2004.70,760) (2004.74,400) (2004.77,-330) (2004.81,-330) (2004.85,110) (2004.90,80) (2004.96,30) (2005.05,10) (2005.20,-10)
(2005.38,-100) (2005.41,-220) (2005.44,-330) (2005.47,-845) (2005.50,-100) (2005.54,700) (2005.57,735) (2005.60,200) (2005.63,600) (2005.66,-100) (2005.69,-220) (2005.72,110) (2005.75,160) (2005.79,50) (2005.85,160) (2005.92,20) (2006.05,0) (2006.20,0)
(2006.40,-50) (2006.45,-270) (2006.48,-600) (2006.50,-1008) (2006.53,600) (2006.57,330) (2006.61,-300) (2006.65,650) (2006.68,600) (2006.72,100) (2006.75,-54) (2006.79,-160) (2006.84,-50) (2006.90,30) (2007.00,0) (2007.20,0)
(2007.40,-80) (2007.44,-270) (2007.47,-435) (2007.49,-600) (2007.53,-1008) (2007.56,-700) (2007.60,650) (2007.63,760) (2007.66,600) (2007.69,400) (2007.72,300) (2007.76,-220) (2007.80,-270) (2007.84,160) (2007.90,60) (2007.96,100) (2008.05,30) (2008.15,60) (2008.25,40) (2008.35,20)
(2008.43,-160) (2008.47,650) (2008.50,700) (2008.54,700) (2008.57,545) (2008.60,380) (2008.63,300) (2008.66,500) (2008.69,200) (2008.71,-1008) (2008.74,-200) (2008.77,490) (2008.80,-435) (2008.83,-680) (2008.86,-300) (2008.89,-100) (2008.93,-50) (2009.00,-40) (2009.10,50) (2009.20,-30) (2009.30,20)
(2009.38,-100) (2009.41,-330) (2009.44,-435) (2009.47,-700) (2009.50,-925) (2009.53,-760) (2009.56,-300) (2009.59,-435) (2009.62,650) (2009.655,1500) (2009.69,1200) (2009.72,-630) (2009.75,-200) (2009.79,200) (2009.84,100) (2009.90,50) (2010.00,20) (2010.15,0) (2010.30,0)
(2010.40,-50) (2010.44,-220) (2010.48,-200) (2010.52,-100) (2010.56,-200) (2010.60,-460) (2010.63,300) (2010.67,700) (2010.70,650) (2010.73,330) (2010.77,200) (2010.81,110) (2010.86,80) (2010.92,50) (2011.00,20) (2011.20,0)
(2011.40,-30) (2011.45,160) (2011.50,100) (2011.54,650) (2011.57,500) (2011.59,1060) (2011.62,700) (2011.65,330) (2011.68,-218) (2011.71,650) (2011.74,545) (2011.77,435) (2011.80,330) (2011.84,218) (2011.88,100) (2011.94,70) (2012.00,50) (2012.10,30) (2012.25,20)
(2012.40,-50) (2012.44,-150) (2012.48,-330) (2012.52,-380) (2012.55,-330) (2012.58,-200) (2012.61,100) (2012.64,-300) (2012.66,-760) (2012.69,200) (2012.71,820) (2012.74,330) (2012.77,650) (2012.80,600) (2012.84,110) (2012.90,50) (2012.97,30) (2013.10,20) (2013.25,-30)
(2013.38,-50) (2013.42,-100) (2013.46,490) (2013.50,490) (2013.54,330) (2013.57,-330) (2013.60,250) (2013.63,545) (2013.67,760) (2013.70,200) (2013.74,-1580) (2013.77,545) (2013.80,300) (2013.84,-330) (2013.88,160) (2013.94,60) (2014.05,20) (2014.15,-20)
(2014.24,-100) (2014.30,-120) (2014.34,-220) (2014.40,-270) (2014.44,-330) (2014.46,-435) (2014.49,-650) (2014.53,-925) (2014.56,-760) (2014.59,-300) (2014.63,650) (2014.66,600) (2014.68,-650) (2014.71,650) (2014.74,435) (2014.77,-160) (2014.80,-300) (2014.86,-100) (2014.92,-50) (2015.00,0) (2015.15,-20)
(2015.28,-54) (2015.32,-160) (2015.35,-270) (2015.38,-270) (2015.42,-150) (2015.46,-410) (2015.50,-220) (2015.53,-435)
(2015.56,-300) (2015.59,300) (2015.62,800) (2015.66,1250) (2015.69,300) (2015.72,380) (2015.76,250) (2015.80,-270) (2015.83,-200) (2015.88,-100) (2015.94,-60) (2016.05,-30) (2016.20,20) (2016.32,-40) (2016.38,-80) (2016.42,-200) (2016.45,-400) (2016.48,-700) (2016.51,-850) (2016.54,-600) (2016.57,300) (2016.60,200) (2016.63,700) (2016.66,900) (2016.69,650) (2016.72,550) (2016.76,500) (2016.80,300) (2016.85,200) (2016.92,80) (2017.05,20) (2017.20,10) (2017.33,-50) (2017.38,-200) (2017.42,-450) (2017.45,-650) (2017.48,-900) (2017.51,-980) (2017.54,-700) (2017.57,-400) (2017.60,300) (2017.63,900) (2017.66,600) (2017.69,650) (2017.72,500) (2017.76,350) (2017.81,250) (2017.87,150) (2017.95,60) (2018.10,70) (2018.25,-20) (2018.36,-150) (2018.40,-400) (2018.43,-800) (2018.46,-1000) (2018.49,-1200) (2018.52,-1550) (2018.55,-1000) (2018.58,-600) (2018.61,100) (2018.64,700) (2018.67,1200) (2018.70,1300) (2018.73,600) (2018.76,400) (2018.80,250) (2018.86,150) (2018.94,100) (2019.05,100) (2019.15,60) (2019.22,-330) (2019.26,-500) (2019.30,-450) (2019.34,-700) (2019.38,-800) (2019.41,-900) (2019.43,-980)
};
\addplot[forget plot, gray, line width=0.8pt, dash pattern=on 3pt off 1.3pt] coordinates {(1998.93,0) (2020.44,0)};
\addplot[cA, line width=1.7pt, forget plot] coordinates {
(1999.95,60) (2000.05,65) (2000.15,75) (2000.25,80) (2000.32,85) (2000.36,160) (2000.40,654) (2000.44,1200) (2000.47,1800) (2000.50,2290) (2000.54,2720) (2000.58,2914) (2000.61,2290) (2000.64,2233) (2000.67,2830) (2000.70,3700) (2000.73,3377) (2000.76,1850) (2000.80,1200) (2000.86,654) (2000.92,400) (2000.99,163) (2001.10,54) (2001.24,44)
(2001.35,163) (2001.40,654) (2001.45,1470) (2001.50,2015) (2001.53,2505) (2001.56,2124) (2001.59,2500) (2001.62,2832) (2001.66,3758) (2001.69,3105) (2001.72,2180) (2001.76,1800) (2001.79,1307) (2001.83,1000) (2001.87,763) (2001.92,500) (2001.98,327) (2002.08,82) (2002.22,65) (2002.36,136)
(2002.43,545) (2002.47,1200) (2002.50,1743) (2002.53,2400) (2002.55,2640) (2002.58,2590) (2002.61,2200) (2002.64,2670) (2002.67,2000) (2002.71,1743) (2002.74,1416) (2002.78,1000) (2002.81,763) (2002.87,500) (2002.92,327) (2003.00,100) (2003.06,10) (2003.23,44) (2003.37,109)
(2003.44,300) (2003.48,654) (2003.53,1634) (2003.56,2070) (2003.62,2400) (2003.66,2780) (2003.69,2830) (2003.72,2940) (2003.75,2800) (2003.79,2180) (2003.84,1416) (2003.88,1000) (2003.92,654) (2004.00,218) (2004.14,54) (2004.35,54)
(2004.42,163) (2004.47,926) (2004.52,2290) (2004.56,2887) (2004.59,2070) (2004.62,2400) (2004.66,2560) (2004.70,2720) (2004.73,1900) (2004.77,1907) (2004.80,1200) (2004.85,800) (2004.91,490) (2004.98,163) (2005.05,54) (2005.20,30) (2005.33,27)
(2005.40,109) (2005.44,300) (2005.47,654) (2005.50,1400) (2005.52,2015) (2005.56,2832) (2005.59,2500) (2005.62,2450) (2005.66,2400) (2005.69,1800) (2005.71,1307) (2005.74,1743) (2005.78,1090) (2005.85,654) (2005.92,218) (2006.02,27) (2006.20,27) (2006.34,27)
(2006.41,109) (2006.46,545) (2006.50,1400) (2006.53,1907) (2006.57,2000) (2006.60,1634) (2006.64,2300) (2006.67,2505) (2006.70,2300) (2006.73,1800) (2006.76,1416) (2006.80,1000) (2006.83,654) (2006.88,400) (2006.93,218) (2007.04,27) (2007.28,27) (2007.42,60)
(2007.49,163) (2007.53,900) (2007.56,1743) (2007.60,2500) (2007.63,2900) (2007.65,3170) (2007.68,2600) (2007.71,2000) (2007.74,1634) (2007.77,1300) (2007.81,980) (2007.86,500) (2007.92,200) (2007.98,54) (2008.10,40) (2008.25,30) (2008.40,27)
(2008.47,654) (2008.52,2290) (2008.57,3377) (2008.60,3550) (2008.63,3620) (2008.66,3500) (2008.71,2615) (2008.75,1634) (2008.78,1100) (2008.82,654) (2008.87,300) (2008.93,100) (2009.00,40) (2009.20,27) (2009.38,27)
(2009.45,100) (2009.52,545) (2009.58,1743) (2009.62,2600) (2009.65,3214) (2009.68,3300) (2009.71,3430) (2009.74,2400) (2009.76,1743) (2009.80,1000) (2009.83,654) (2009.88,300) (2009.93,163) (2010.07,10) (2010.20,10) (2010.35,20)
(2010.42,163) (2010.47,500) (2010.52,1200) (2010.56,1743) (2010.60,2400) (2010.64,2900) (2010.67,3300) (2010.70,3530) (2010.72,2400) (2010.76,1800) (2010.81,1200) (2010.86,700) (2010.91,436) (2010.98,150) (2011.05,27) (2011.20,27) (2011.36,27)
(2011.43,163) (2011.50,1200) (2011.54,1900) (2011.57,2340) (2011.60,3000) (2011.62,3500) (2011.64,3813) (2011.66,3300) (2011.68,2996) (2011.71,2505) (2011.75,2100) (2011.79,1750) (2011.82,1580) (2011.86,1200) (2011.89,870) (2011.94,500) (2011.99,327) (2012.10,272) (2012.24,218) (2012.38,218)
(2012.44,350) (2012.48,654) (2012.53,1400) (2012.58,2200) (2012.62,2700) (2012.65,2400) (2012.67,2560) (2012.70,2200) (2012.74,2720) (2012.77,2000) (2012.80,1470) (2012.84,1000) (2012.87,654) (2012.92,450) (2012.97,327) (2013.08,163) (2013.18,109) (2013.28,218)
(2013.36,400) (2013.42,654) (2013.47,1300) (2013.53,2290) (2013.57,2900) (2013.61,3350) (2013.65,3486) (2013.68,3400) (2013.71,2500) (2013.74,1800) (2013.77,1307) (2013.81,900) (2013.84,654) (2013.90,350) (2013.95,163) (2014.05,60) (2014.19,27) (2014.30,27) (2014.40,40)
(2014.44,200) (2014.47,327) (2014.51,1200) (2014.54,2124) (2014.58,2500) (2014.61,2800) (2014.63,2952) (2014.66,2600) (2014.69,2000) (2014.72,1400) (2014.76,900) (2014.81,600) (2014.86,350) (2014.93,100) (2015.00,27) (2015.15,27) (2015.31,40) (2015.38,150) (2015.45,400) (2015.52,900)
(2015.56,2000) (2015.59,2832) (2015.625,3280) (2015.66,2400) (2015.71,1850) (2015.76,1200) (2015.83,545) (2015.90,200) (2016.00,60) (2016.08,27) (2016.25,27) (2016.43,27) (2016.48,200) (2016.51,654) (2016.55,2290) (2016.58,3050) (2016.62,3080) (2016.66,2996) (2016.69,2600) (2016.71,2015) (2016.76,1634) (2016.81,926) (2016.88,381) (2016.95,100) (2016.99,54) (2017.20,27) (2017.40,27) (2017.46,200) (2017.51,545) (2017.55,1500) (2017.58,2290) (2017.63,3060) (2017.66,2500) (2017.68,1850) (2017.72,1300) (2017.75,926) (2017.80,600) (2017.86,327) (2017.96,54) (2018.15,27) (2018.38,27) (2018.45,200) (2018.49,654) (2018.53,1500) (2018.56,2290) (2018.60,2600) (2018.63,2887) (2018.66,3100) (2018.70,3420) (2018.72,2700) (2018.73,2180) (2018.77,980) (2018.84,436) (2018.94,82) (2019.15,54) (2019.30,44) (2019.43,44) (2019.45,109)
};
\addplot[cF, line width=1.7pt, forget plot] coordinates {
(1999.95,11) (2000.00,50) (2000.05,80) (2000.15,95) (2000.25,105) (2000.32,110) (2000.37,136) (2000.41,327) (2000.44,700) (2000.47,1090) (2000.52,2180) (2000.55,2500) (2000.58,2670) (2000.61,2860) (2000.64,2233) (2000.665,2832) (2000.69,3300) (2000.72,3500) (2000.745,3650) (2000.775,2832) (2000.80,1960) (2000.84,1090) (2000.89,654) (2000.96,354) (2001.07,245) (2001.17,163) (2001.28,163) (2001.35,190)
(2001.40,408) (2001.45,980) (2001.52,2124) (2001.57,2290) (2001.60,2070) (2001.625,2233) (2001.66,3105) (2001.70,4205) (2001.73,2400) (2001.77,980) (2001.80,1200) (2001.83,870) (2001.90,545) (2002.01,272) (2002.15,82) (2002.25,65) (2002.39,163)
(2002.46,654) (2002.52,1416) (2002.55,2180) (2002.58,2615) (2002.61,2340) (2002.64,3770) (2002.67,2560) (2002.69,1470) (2002.72,1580) (2002.74,1090) (2002.78,654) (2002.88,218) (2003.02,82) (2003.23,27) (2003.40,109)
(2003.48,381) (2003.52,1307) (2003.55,2124) (2003.58,2070) (2003.61,2400) (2003.64,2750) (2003.665,2070) (2003.69,2124) (2003.72,2015) (2003.79,1743) (2003.85,1200) (2003.93,654) (2004.03,218) (2004.21,44) (2004.35,82)
(2004.42,272) (2004.47,1200) (2004.52,2015) (2004.57,2832) (2004.60,3377) (2004.62,1960) (2004.65,2560) (2004.68,2180) (2004.72,1500) (2004.76,1100) (2004.80,763) (2004.85,600) (2004.91,490) (2004.98,163) (2005.05,54) (2005.33,27)
(2005.40,54) (2005.45,300) (2005.50,1470) (2005.54,2200) (2005.58,2450) (2005.61,2505) (2005.66,2424) (2005.70,1900) (2005.74,1400) (2005.78,1090) (2005.85,654) (2005.92,218) (2006.02,27) (2006.34,27)
(2006.41,109) (2006.46,545) (2006.50,1634) (2006.53,1700) (2006.57,1950) (2006.60,2150) (2006.63,2000) (2006.66,1850) (2006.70,1930) (2006.73,1700) (2006.76,1416) (2006.83,654) (2006.93,218) (2007.04,27) (2007.28,27) (2007.42,82)
(2007.46,708) (2007.50,1200) (2007.53,1360) (2007.56,1600) (2007.60,2200) (2007.63,2500) (2007.66,2590) (2007.70,2000) (2007.74,1634) (2007.78,1200) (2007.81,980) (2007.84,600) (2007.86,436) (2007.88,500) (2007.91,200) (2007.94,280) (2007.98,-54) (2008.02,40) (2008.06,-40) (2008.10,30) (2008.14,-50) (2008.18,20) (2008.22,-30) (2008.28,10) (2008.34,-20) (2008.40,20)
(2008.45,200) (2008.49,800) (2008.52,2000) (2008.56,3200) (2008.60,3500) (2008.63,3568) (2008.66,3300) (2008.71,2615) (2008.73,1800) (2008.75,1200) (2008.78,900) (2008.80,1100) (2008.82,654) (2008.85,436) (2008.87,300) (2008.89,350) (2008.92,150) (2008.95,200) (2008.98,-50) (2009.02,60) (2009.06,-60) (2009.10,40) (2009.15,-40) (2009.20,30) (2009.26,-30) (2009.32,20) (2009.38,0)
(2009.45,300) (2009.50,800) (2009.52,1253) (2009.56,1500) (2009.59,1800) (2009.62,2070) (2009.64,1800) (2009.67,2000) (2009.70,2100) (2009.72,2290) (2009.74,2280) (2009.77,1300) (2009.79,708) (2009.83,400) (2009.88,272) (2009.95,100) (2010.04,-27) (2010.15,10) (2010.28,27)
(2010.42,163) (2010.47,500) (2010.52,1200) (2010.56,1743) (2010.60,2200) (2010.64,2500) (2010.67,2700) (2010.70,2832) (2010.73,2200) (2010.76,1700) (2010.81,1100) (2010.86,650) (2010.91,400) (2010.98,150) (2011.05,27) (2011.36,27)
(2011.43,163) (2011.50,1150) (2011.54,1900) (2011.57,2340) (2011.60,2300) (2011.62,2900) (2011.64,3731) (2011.66,3300) (2011.68,2996) (2011.70,2300) (2011.73,1690) (2011.77,1600) (2011.81,1500) (2011.85,1200) (2011.89,850) (2011.94,480) (2011.99,300) (2012.10,250) (2012.24,200) (2012.38,200)
(2012.44,350) (2012.48,700) (2012.53,1500) (2012.57,2300) (2012.60,2800) (2012.62,3023) (2012.645,2500) (2012.66,1525) (2012.68,2290) (2012.71,2100) (2012.74,1900) (2012.77,1500) (2012.80,1300) (2012.84,900) (2012.87,700) (2012.90,400) (2012.93,500) (2012.97,300) (2013.02,200) (2013.08,150) (2013.18,120) (2013.28,250)
(2013.36,400) (2013.42,700) (2013.47,1300) (2013.53,2290) (2013.57,2800) (2013.60,3100) (2013.62,3377) (2013.64,3200) (2013.67,2720) (2013.69,2800) (2013.71,2300) (2013.74,1800) (2013.77,1307) (2013.79,700) (2013.81,1100) (2013.84,654) (2013.90,350) (2013.95,163) (2014.05,60) (2014.19,27) (2014.26,163) (2014.32,160) (2014.40,120)
(2014.44,200) (2014.47,327) (2014.51,1000) (2014.54,1900) (2014.57,2200) (2014.60,2300) (2014.63,2700) (2014.67,2530) (2014.69,1900) (2014.72,1634) (2014.75,1090) (2014.77,1300) (2014.80,900) (2014.86,545) (2014.91,200) (2014.96,0) (2015.10,27) (2015.31,82) (2015.38,327) (2015.45,654) (2015.50,1090)
};
\addplot[cT, line width=1.8pt, forget plot] coordinates {
(2015.53,1307) (2015.57,2000) (2015.60,2400) (2015.62,2505) (2015.65,2000) (2015.69,1634) (2015.72,1200) (2015.76,926) (2015.80,600) (2015.83,436) (2015.88,200) (2015.94,109) (2016.00,40) (2016.08,0) (2016.15,-20) (2016.22,0) (2016.27,60) (2016.32,109) (2016.37,100) (2016.43,163) (2016.48,926) (2016.51,1500) (2016.53,2015) (2016.57,2600) (2016.60,2915) (2016.63,2300) (2016.67,1470) (2016.71,1000) (2016.76,654) (2016.80,350) (2016.85,163) (2016.92,50) (2016.99,0) (2017.10,5) (2017.20,20) (2017.30,27) (2017.37,300) (2017.40,500) (2017.44,870) (2017.48,1500) (2017.51,2015) (2017.55,2400) (2017.59,2640) (2017.63,2000) (2017.67,1200) (2017.71,800) (2017.75,600) (2017.80,350) (2017.86,163) (2017.95,0) (2018.03,-54) (2018.10,-50) (2018.17,-44) (2018.22,0) (2018.28,54) (2018.33,100) (2018.38,218) (2018.45,1200) (2018.49,1900) (2018.52,2560) (2018.55,2800) (2018.58,2860) (2018.61,2500) (2018.63,2180) (2018.66,1500) (2018.70,980) (2018.75,600) (2018.80,327) (2018.87,100) (2018.94,-27) (2019.00,-50) (2019.08,-54) (2019.15,-20) (2019.22,54) (2019.28,300) (2019.32,545) (2019.38,800) (2019.43,1090)
};
\addlegendimage{legA}\addlegendentry{Actual}
\addlegendimage{legF}\addlegendentry{Train Fit}
\addlegendimage{legT}\addlegendentry{Test (Forecast)}
\addlegendimage{legC}\addlegendentry{95\% CI}
\addlegendimage{legR}\addlegendentry{Residual}
\end{axis}

\node[font=\labfont\bfseries\fontsize{45}{50}\selectfont, anchor=center] at (157,900.5) {(a)};
\node[font=\labfont\bfseries\fontsize{45}{50}\selectfont, anchor=center] at (158,415.5) {(b)};
\end{tikzpicture}
\end{document}
